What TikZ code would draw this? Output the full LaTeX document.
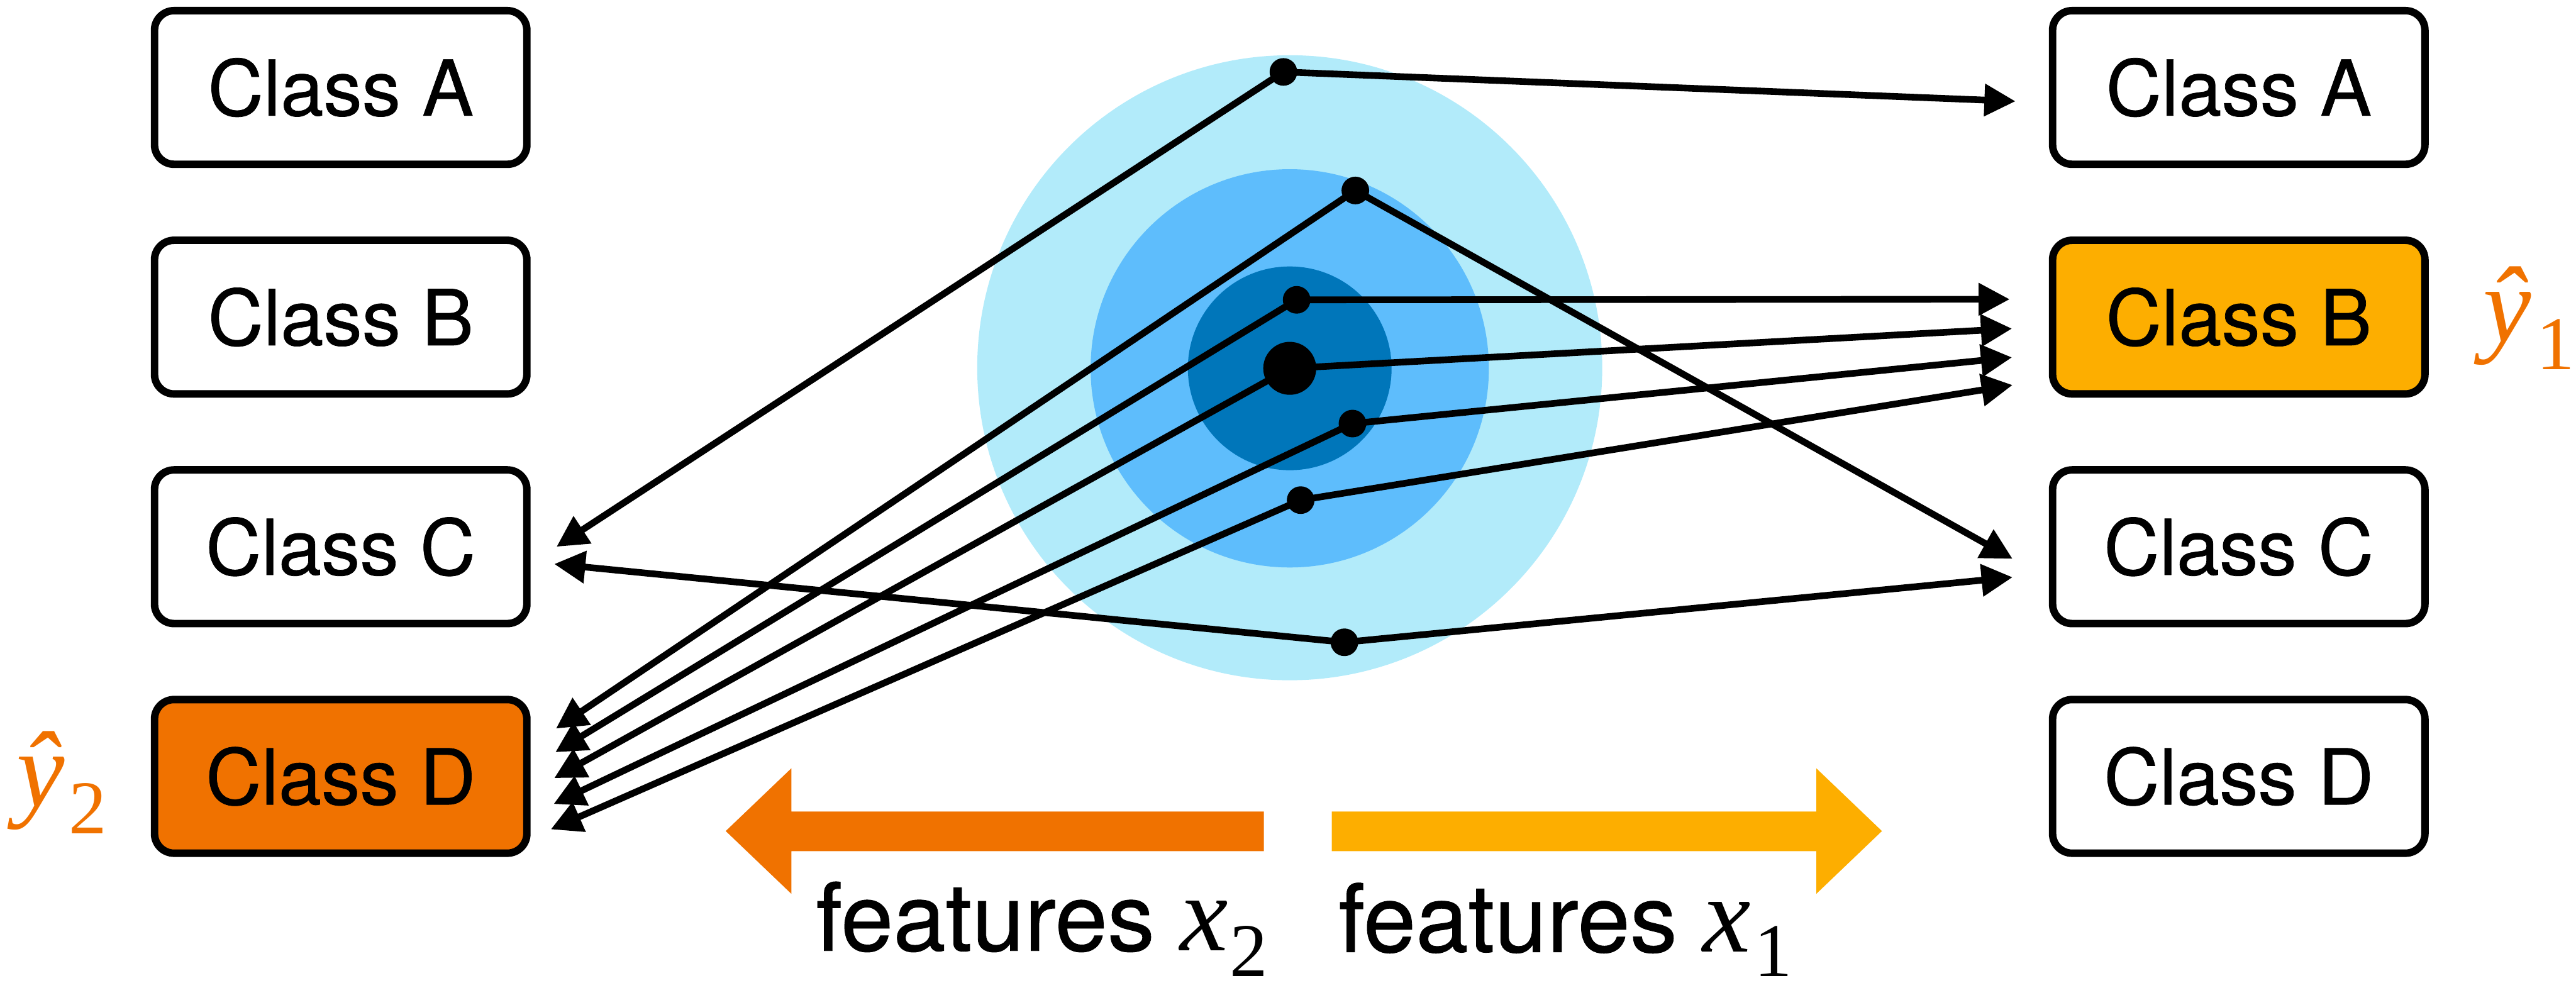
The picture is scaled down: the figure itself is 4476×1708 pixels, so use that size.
\documentclass[tikz,border=0pt]{standalone}
\usepackage{fontspec}
\newfontfamily\hv[FakeBold=0.6]{TeX Gyre Heros}
\newfontfamily\tms{Liberation Serif}
\usetikzlibrary{arrows.meta}
\definecolor{cOrange}{RGB}{240,114,0}
\definecolor{cYellow}{RGB}{253,174,0}
\definecolor{cLight}{RGB}{178,235,250}
\definecolor{cMid}{RGB}{94,189,252}
\definecolor{cDark}{RGB}{0,118,186}
\begin{document}
\begin{tikzpicture}[x=0.25pt,y=-0.25pt,
  classbox/.style={draw=black, line width=3.25pt, rounded corners=8.5pt,
    minimum width=161.75pt, minimum height=66.75pt, fill=white, inner sep=0pt,
    font=\hv\fontsize{33.5}{40}\selectfont},
  conn/.style={line width=2.9pt, -{Triangle[length=13.5pt,width=13.5pt]}},
  sdot/.style={circle, fill=black, inner sep=0pt, minimum size=12pt},
  bdot/.style={circle, fill=black, inner sep=0pt, minimum size=23pt},
  lbl/.style={anchor=base west, inner sep=0pt, font=\hv\fontsize{41}{41}\selectfont},
  mvar/.style={anchor=base west, inner sep=0pt, font=\tms\itshape\fontsize{47}{47}\selectfont},
  msub/.style={anchor=base west, inner sep=0pt, font=\tms\fontsize{33}{33}\selectfont}
]
\useasboundingbox (0,0) rectangle (4476,1708);

% feature-space blobs
\fill[cLight] (2241,639) circle[radius=135.75pt];
\fill[cMid] (2241,640) circle[radius=86.5pt];
\fill[cDark] (2241,640) circle[radius=44.25pt];

% class boxes
\node[classbox] (LA) at (592,152) {Class A};
\node[classbox] (LB) at (592,551) {Class B};
\node[classbox] (LC) at (592,950) {Class C};
\node[classbox, fill=cOrange] (LD) at (592,1349) {Class D};
\node[classbox] (RA) at (3890,152) {Class A};
\node[classbox, fill=cYellow] (RB) at (3890,551) {Class B};
\node[classbox] (RC) at (3890,950) {Class C};
\node[classbox] (RD) at (3890,1349) {Class D};

% points
\node[sdot] (d1) at (2230,125) {};
\node[sdot] (d2) at (2355,331) {};
\node[sdot] (d3) at (2253,521) {};
\node[bdot] (d0) at (2241,640) {};
\node[sdot] (d4) at (2350,736) {};
\node[sdot] (d5) at (2260,869) {};
\node[sdot] (d6) at (2336,1116) {};

% arrow tip coordinates
\coordinate (tRA) at (3502,176);
\coordinate (tRB1) at (3492,520);
\coordinate (tRB2) at (3496,571);
\coordinate (tRB3) at (3496,621);
\coordinate (tRB4) at (3497,669);
\coordinate (tRC1) at (3497,971);
\coordinate (tRC2) at (3497,1003);
\coordinate (tLC1) at (967,950);
\coordinate (tLC2) at (963,980);
\coordinate (tLD1) at (966,1266);
\coordinate (tLD2) at (965,1307);
\coordinate (tLD3) at (963,1352);
\coordinate (tLD4) at (962,1397);
\coordinate (tLD5) at (957,1441);

% connectors
\draw[conn] (d1.center) -- (tRA);
\draw[conn] (d1.center) -- (tLC1);
\draw[conn] (d2.center) -- (tRC1);
\draw[conn] (d2.center) -- (tLD1);
\draw[conn] (d3.center) -- (tRB1);
\draw[conn] (d3.center) -- (tLD2);
\draw[conn] (d0.center) -- (tRB2);
\draw[conn] (d0.center) -- (tLD3);
\draw[conn] (d4.center) -- (tRB3);
\draw[conn] (d4.center) -- (tLD4);
\draw[conn] (d5.center) -- (tRB4);
\draw[conn] (d5.center) -- (tLD5);
\draw[conn] (d6.center) -- (tRC2);
\draw[conn] (d6.center) -- (tLC2);

% big feature arrows
\fill[cOrange] (1261,1444) -- (1375,1335) -- (1375,1410) -- (2196,1410) -- (2196,1479)
  -- (1375,1479) -- (1375,1553) -- cycle;
\fill[cYellow] (3270,1444) -- (3156,1335) -- (3156,1410) -- (2314,1410) -- (2314,1479)
  -- (3156,1479) -- (3156,1553) -- cycle;

% labels
\node[lbl] (f2) at (1417,1652) {features};
\node[mvar] (x2) at (2050,1652) {x};
\node[msub] (x2s) at (2136,1696) {2};
\node[lbl] (f1) at (2325,1654) {features};
\node[mvar] (x1) at (2958,1654) {x};
\node[msub] (x1s) at (3048,1697) {1};

\node[mvar, text=cOrange] (yh2) at (28,1401) {ŷ};
\node[msub, text=cOrange] (yh2s) at (119,1448) {2};
\node[mvar, text=cOrange] (yh1) at (4314,594) {ŷ};
\node[msub, text=cOrange] (yh1s) at (4407,642) {1};
\end{tikzpicture}
\end{document}
